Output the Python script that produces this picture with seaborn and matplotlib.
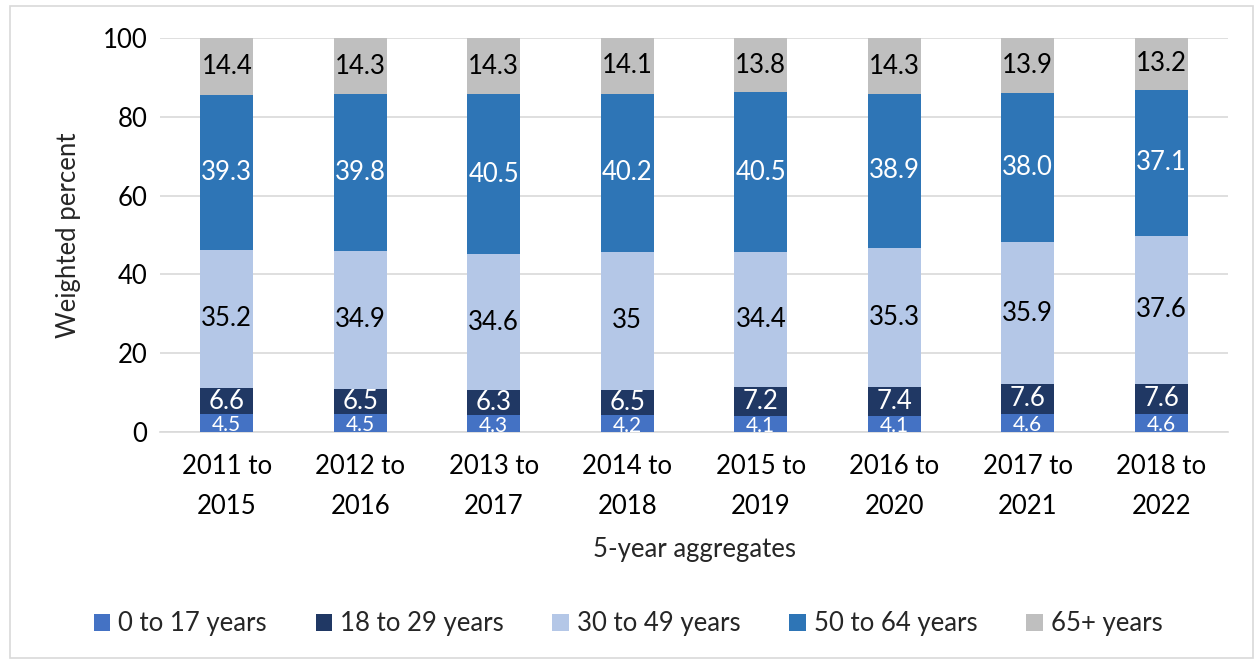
import matplotlib
matplotlib.use("Agg")
import matplotlib.pyplot as plt
from matplotlib.patches import Rectangle
import numpy as np
import pandas as pd
import seaborn as sns

periods = ["2011 to\n2015", "2012 to\n2016", "2013 to\n2017", "2014 to\n2018",
           "2015 to\n2019", "2016 to\n2020", "2017 to\n2021", "2018 to\n2022"]
age_groups = ["0 to 17 years", "18 to 29 years", "30 to 49 years", "50 to 64 years", "65+ years"]

age_0_17 = [4.5, 4.5, 4.3, 4.2, 4.1, 4.1, 4.6, 4.6]
age_18_29 = [6.6, 6.5, 6.3, 6.5, 7.2, 7.4, 7.6, 7.6]
age_30_49 = [35.2, 34.9, 34.6, 35, 34.4, 35.3, 35.9, 37.6]
age_50_64 = [39.3, 39.8, 40.5, 40.2, 40.5, 38.9, 38.0, 37.1]
age_65_plus = [14.4, 14.3, 14.3, 14.1, 13.8, 14.3, 13.9, 13.2]
label_texts = {
    "30 to 49 years": ["35.2", "34.9", "34.6", "35", "34.4", "35.3", "35.9", "37.6"],
}

series = [age_0_17, age_18_29, age_30_49, age_50_64, age_65_plus]
colors = ["#4472C4", "#203864", "#B4C7E7", "#2E75B6", "#BFBFBF"]
text_colors = ["white", "white", "black", "white", "black"]

FS = 18.5

sns.set_theme(style="white")
plt.rcParams["font.family"] = ["Lato", "DejaVu Sans"]

fig = plt.figure(figsize=(12.56, 6.63), dpi=100)
ax = fig.add_axes([0.1274, 0.3484, 0.8503, 0.5943])

# Outer chart frame
fig.patches.append(Rectangle((0.008, 0.008), 0.99, 0.983, transform=fig.transFigure,
                             fill=False, edgecolor="#D9D9D9", linewidth=1.2))

bottom = np.zeros(len(periods))
for name, vals, col, tcol in zip(age_groups, series, colors, text_colors):
    df = pd.DataFrame({"period": periods, "value": vals})
    sns.barplot(data=df, x="period", y="value", color=col, bottom=bottom,
                width=0.4, saturation=1, ax=ax, label=name, zorder=3,
                linewidth=0, errorbar=None)
    texts = label_texts.get(name, [f"{v:.1f}" for v in vals])
    small = name == "0 to 17 years"
    for i, (v, t) in enumerate(zip(vals, texts)):
        y = bottom[i] + v / 2 - (0.5 if small else 0)
        ax.text(i, y, t, ha="center", va="center", color=tcol,
                fontsize=15 if small else FS, zorder=4, clip_on=True)
    bottom = bottom + np.array(vals)

ax.set_ylim(0, 100)
ax.set_xlim(-0.5, len(periods) - 0.5)
ax.set_yticks(range(0, 101, 20))
ax.yaxis.grid(True, color="#D9D9D9", linewidth=1.2, zorder=0)
ax.set_axisbelow(True)
for s in ["top", "right", "left"]:
    ax.spines[s].set_visible(False)
ax.spines["bottom"].set_color("#D9D9D9")
ax.spines["bottom"].set_linewidth(1.2)
ax.tick_params(axis="both", length=0, labelsize=FS, colors="black")
ax.tick_params(axis="y", pad=9)
ax.tick_params(axis="x", pad=16)
for lbl in ax.get_xticklabels():
    lbl.set_linespacing(1.75)
ax.set_xlabel("5-year aggregates", fontsize=FS, labelpad=13)
ax.set_ylabel("Weighted percent", fontsize=FS, labelpad=16)

handles, labels = ax.get_legend_handles_labels()
ax.legend(handles, labels, loc="center", bbox_to_anchor=(0.5, 1 - 624 / 663),
          bbox_transform=fig.transFigure, ncol=5, frameon=False, fontsize=FS,
          handlelength=0.65, handleheight=0.65, handletextpad=0.3, columnspacing=1.9)

fig.savefig("out.png", dpi=100)
